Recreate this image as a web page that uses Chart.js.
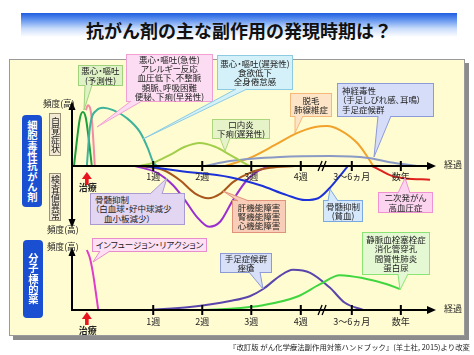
<!DOCTYPE html>
<html><head><meta charset="utf-8">
<script src="https://cdn.jsdelivr.net/npm/chart.js@4.4.0/dist/chart.umd.min.js"></script>
<style>
html,body{margin:0;padding:0;background:#fff;}
#wrap{position:relative;width:474px;height:355px;overflow:hidden;font-family:"Noto Sans CJK JP","Noto Sans",sans-serif;color:#222;}
#title{position:absolute;left:21px;top:13px;width:436px;height:30px;background:linear-gradient(#1d5de0 0%,#5f93ee 22%,#c9dcfb 52%,#ffffff 80%);font-size:18px;font-weight:bold;text-align:center;line-height:35px;color:#111;}
#panel{position:absolute;left:9px;top:59px;width:456px;height:277px;background:#fffcd2;border:1px solid #9a9a9a;box-sizing:border-box;box-shadow:4px 4px 0 #8c8c8c;}
canvas{position:absolute;left:0;top:0;}
.co{position:absolute;box-sizing:border-box;border:1px solid;font-size:8.5px;line-height:9.3px;text-align:center;white-space:nowrap;display:flex;flex-direction:column;justify-content:center;font-feature-settings:"palt";color:#222;}
.lbl{position:absolute;font-size:8.6px;line-height:10px;white-space:nowrap;font-feature-settings:"palt";color:#222;}
.vb{position:absolute;writing-mode:vertical-rl;text-orientation:upright;text-align:center;box-sizing:border-box;}
.big{background:#1a4fd2;color:#fff;font-weight:bold;font-size:10.3px;line-height:20px;border-radius:4px;}
.small{background:#f1e9d4;border:1px solid #9c9074;font-size:9px;line-height:10px;color:#222;}
#cite{position:absolute;right:4px;top:342px;font-size:7.4px;line-height:10px;white-space:nowrap;color:#222;}
svg{position:absolute;left:0;top:0;}
</style></head>
<body><div id="wrap">
<div id="title">抗がん剤の主な副作用の発現時期は？</div>
<div id="panel"></div>
<canvas id="c1" width="474" height="355"></canvas>
<canvas id="c2" width="474" height="355"></canvas>
<div class="vb big" style="left:22px;top:115px;width:20px;height:92px;">細胞毒性抗がん剤</div>
<div class="vb big" style="left:23px;top:240px;width:20px;height:78px;">分子標的薬</div>
<div class="vb small" style="left:49px;top:113px;width:12px;height:43px;">自覚症状</div>
<div class="vb small" style="left:49px;top:173px;width:12px;height:48px;">検査値異常</div>
<div class="lbl" style="left:43px;top:98px;">頻度(高)</div>
<div class="lbl" style="left:47px;top:224px;">頻度(高)</div>
<div class="lbl" style="left:47px;top:241px;">頻度(高)</div>
<div class="lbl" style="left:444px;top:160px;font-size:9px;">経過</div>
<div class="lbl" style="left:444px;top:304px;font-size:9px;">経過</div>
<div id="callouts"></div>
<svg id="ptr" width="474" height="355"></svg>
<div id="cite">『改訂版 がん化学療法副作用対策ハンドブック』(羊土社, 2015)より改変</div>
</div>
<script>
// ---- axis categories (position on the time axis, in axis units) ----
const tickLabels = ['1週','2週','3週','4週','3～6ヵ月','数年'];
const tickValues = [1.64, 2.63, 3.62, 4.62, 5.65, 6.64];
const treatmentX = 0.30;
const breakX = 5.07;
const axisEnd = 7.35;

// ---- cytotoxic drugs: symptoms (+) and lab abnormalities (-) ----
const nauseaAnticipatory = [[0.04,0],[0.10,0.42],[0.16,0.77],[0.22,0.87],[0.28,0.77],[0.34,0.42],[0.40,0]];
const nauseaAcute = [[0.28,0.90],[0.32,0.98],[0.37,0.92],[0.41,0.66],[0.44,0.29],[0.46,0]];
const nauseaDelayed = [[0.30,0],[0.36,0.61],[0.50,0.90],[0.63,0.94],[0.83,0.90],[1.11,0.77],[1.37,0.55],[1.53,0.29],[1.64,0.06],[1.72,0]];
const stomatitis = [[1.37,0],[1.64,0.05],[1.98,0.18],[2.28,0.31],[2.58,0.37],[2.89,0.31],[3.19,0.18],[3.45,0.06],[3.59,0]];
const alopecia = [[3.09,0],[3.59,0.13],[4.10,0.34],[4.54,0.53],[4.91,0.63],[5.15,0.645],[5.41,0.58],[5.76,0.37],[5.98,0.13],[6.08,0]];
const neuropathy = [[2.69,0],[3.19,0.08],[4.20,0.145],[5.21,0.16],[5.98,0.13],[6.42,0.06],[6.97,0]];
const secondaryCancer = [[6.06,0],[6.22,-0.065],[6.46,-0.16],[6.72,-0.20],[7.23,-0.22]];
const myeloWBC = [[1.27,0],[1.72,-0.11],[2.04,-0.31],[2.28,-0.55],[2.52,-0.82],[2.77,-0.98],[2.99,-0.90],[3.25,-0.55],[3.53,-0.23],[3.76,-0.08],[4.00,0]];
const organDamage = [[1.37,0],[1.84,-0.065],[2.18,-0.23],[2.48,-0.44],[2.75,-0.52],[2.99,-0.45],[3.25,-0.26],[3.59,-0.11],[4.00,-0.03],[4.50,0]];
const anemia = [[1.47,0],[2.18,-0.08],[3.19,-0.18],[3.80,-0.31],[4.34,-0.47],[4.71,-0.55],[4.97,-0.52],[5.21,-0.35],[5.41,-0.16],[5.57,0]];

// ---- molecular targeted drugs ----
const infusionReaction = [[0.30,1.0],[0.36,0.87],[0.42,0.63],[0.48,0.30],[0.53,0]];
const handFootAcne = [[1.58,0],[2.38,0.05],[3.19,0.15],[3.59,0.23],[3.86,0.35],[4.20,0.57],[4.46,0.67],[4.81,0.62],[5.21,0.37],[5.51,0.12],[5.88,0]];
const thromboEtc = [[2.58,0],[3.19,0.02],[3.86,0.08],[4.54,0.22],[5.01,0.43],[5.41,0.58],[5.88,0.53],[6.36,0.43],[6.62,0.35]];

const pts = a => a.map(p => ({x:p[0], y:p[1]}));
const ds = (arr, color) => ({data: pts(arr), borderColor: color, borderWidth: 2, pointRadius: 0, fill: false, cubicInterpolationMode: 'monotone', clip: false});

function tri(ctx, pts){ctx.beginPath();ctx.moveTo(pts[0][0],pts[0][1]);ctx.lineTo(pts[1][0],pts[1][1]);ctx.lineTo(pts[2][0],pts[2][1]);ctx.closePath();ctx.fill();}

function makeAxes(cfg){
  return {id:'axes', afterDatasetsDraw(chart){
    const ctx = chart.ctx, x = chart.scales.x, y = chart.scales.y;
    const y0 = y.getPixelForValue(0), x0 = x.getPixelForValue(0), xe = x.getPixelForValue(axisEnd);
    ctx.save();
    ctx.strokeStyle = '#000'; ctx.fillStyle = '#000'; ctx.lineWidth = 2;
    ctx.beginPath(); ctx.moveTo(x0, y0); ctx.lineTo(xe - 6, y0); ctx.stroke();
    tri(ctx, [[xe, y0], [xe - 9, y0 - 4], [xe - 9, y0 + 4]]);
    const yt = y.getPixelForValue(y.max) - cfg.topExtra;
    const yb = cfg.both ? y.getPixelForValue(y.min) : y0;
    ctx.beginPath(); ctx.moveTo(x0, cfg.both ? yb - 6 : y0 + 1); ctx.lineTo(x0, yt + 6); ctx.stroke();
    tri(ctx, [[x0, yt], [x0 - 3.5, yt + 9], [x0 + 3.5, yt + 9]]);
    if (cfg.both) tri(ctx, [[x0, yb], [x0 - 3.5, yb - 9], [x0 + 3.5, yb - 9]]);
    // ticks
    ctx.font = '9px "Noto Sans CJK JP"'; ctx.textAlign = 'center'; ctx.textBaseline = 'middle';
    tickValues.forEach((v, i) => {
      const px = x.getPixelForValue(v);
      ctx.beginPath(); ctx.moveTo(px, y0 - 5); ctx.lineTo(px, y0 + 5); ctx.stroke();
      ctx.fillStyle = '#222'; ctx.fillText(tickLabels[i], px, y0 + cfg.labelDy);
    });
    // break mark
    const bx = x.getPixelForValue(breakX);
    ctx.lineWidth = 1.3; ctx.strokeStyle = '#000';
    ctx.beginPath(); ctx.moveTo(bx - 5, y0 + 5); ctx.lineTo(bx - 1, y0 - 5); ctx.moveTo(bx - 1, y0 + 5); ctx.lineTo(bx + 3, y0 - 5); ctx.stroke();
    // treatment arrow
    const tx = x.getPixelForValue(treatmentX);
    ctx.fillStyle = '#e8141e';
    const at = y0 + cfg.arrowTip;
    tri(ctx, [[tx, at], [tx - 5, at + 7], [tx + 5, at + 7]]);
    ctx.fillRect(tx - 1.8, at + 6, 3.6, 7);
    ctx.fillStyle = '#222'; ctx.font = 'bold 9px "Noto Sans CJK JP"';
    ctx.fillText('治療', tx + 1, y0 + cfg.treatDy);
    ctx.restore();
  }};
}

const baseOpts = (yMin, yMax, padTop, padBottom) => ({
  responsive: false, animation: false,
  layout: {padding: {left: 72, right: 474 - 436, top: padTop, bottom: padBottom}},
  scales: {x: {type: 'linear', min: 0, max: axisEnd, display: false}, y: {min: yMin, max: yMax, display: false}},
  plugins: {legend: {display: false}, tooltip: {enabled: false}}
});

new Chart(document.getElementById('c1'), {
  type: 'line',
  data: {datasets: [
    ds(stomatitis, '#a2cf4a'),
    ds(neuropathy, '#8a9ac4'),
    ds(alopecia, '#f2a22a'),
    ds(nauseaDelayed, '#3db39a'),
    ds(nauseaAcute, '#f28ca0'),
    ds(nauseaAnticipatory, '#1f9e3a'),
    ds(secondaryCancer, '#e0201c'),
    ds(anemia, '#1c32d8'),
    ds(organDamage, '#a8561a'),
    ds(myeloWBC, '#9a2fd0')
  ]},
  options: baseOpts(-1, 1, 104, 355 - 228),
  plugins: [makeAxes({both: true, topExtra: 3, labelDy: 11, arrowTip: 6, treatDy: 22})]
});

new Chart(document.getElementById('c2'), {
  type: 'line',
  data: {datasets: [
    ds(thromboEtc, '#3fd63f'),
    ds(handFootAcne, '#5a46aa'),
    ds(infusionReaction, '#e03ccc')
  ]},
  options: baseOpts(0, 1.05, 247, 355 - 310),
  plugins: [makeAxes({both: false, topExtra: 0, labelDy: 12, arrowTip: 2, treatDy: 21})]
});

// ---- callout boxes (layout) ----
const callouts = [
 {x:78,y:65,w:45,h:21,bg:'#dff2c6',bd:'#9fd27a',t:'悪心・嘔吐<br>(予測性)',p:[[85,85],[84,110],[92,85]]},
 {x:126,y:54,w:87,h:48,bg:'#fcdcf2',bd:'#f2a0d2',t:'悪心・嘔吐(急性)<br>アレルギー反応<br>血圧低下、不整脈<br>頻脈、呼吸困難<br>便秘、下痢(早発性)',p:[[131,101],[97,127],[142,101]]},
 {x:217,y:55,w:76,h:35,bg:'#d4f0f8',bd:'#8ccbe0',t:'悪心・嘔吐(遅発性)<br>食欲低下<br>全身倦怠感',p:[[236,89],[143,139],[247,89]]},
 {x:212,y:119,w:58,h:20,bg:'#e6f3c8',bd:'#acd67c',t:'口内炎<br>下痢(遅発性)',p:[[220,138],[225,151],[230,138]]},
 {x:290,y:93,w:42,h:24,bg:'#fde4c6',bd:'#f4b878',t:'脱毛<br>肺線維症',p:[[295,116],[295,133],[303,116]]},
 {x:337,y:83,w:97,h:34,bg:'#d6ddf8',bd:'#8c9ad8',left:true,t:'神経毒性<br>（手足しびれ感、耳鳴）<br>手足症候群',p:[[378,116],[374,157],[391,116]]},
 {x:90,y:193,w:95,h:32,bg:'#e2d6f2',bd:'#aa9ad2',left:true,t:'骨髄抑制<br>（白血球・好中球減少<br><span style="padding-left:9px">血小板減少）</span>',p:[[150,194],[167,178],[162,194]]},
 {x:232,y:200,w:54,h:33,bg:'#f8ceb8',bd:'#e0927a',t:'肝機能障害<br>腎機能障害<br>心機能障害',p:[[238,201],[223,191],[249,201]]},
 {x:323,y:200,w:40,h:22,bg:'#d6e9fc',bd:'#7aa8e0',t:'骨髄抑制<br>(貧血)',p:[[328,201],[330,189],[338,201]]},
 {x:378,y:192,w:55,h:21,bg:'#fcd4f0',bd:'#f092d2',t:'二次発がん<br>高血圧症',p:[[398,193],[405,178],[410,193]]},
 {x:92,y:238,w:115,h:14,bg:'#fde0f4',bd:'#e88ccc',t:'インフュージョン・リアクション',p:[[100,251],[93,262],[110,251]]},
 {x:220,y:253,w:52,h:20,bg:'#d8e0f8',bd:'#8c9ad8',t:'手足症候群<br>痤瘡',p:[[249,272],[263,289],[260,272]]},
 {x:362,y:232,w:68,h:43,bg:'#e4f8d4',bd:'#8ae474',t:'静脈血栓塞栓症<br>消化管穿孔<br>間質性肺炎<br>蛋白尿',p:[[398,274],[400,290],[408,274]]}
];
const host = document.getElementById('callouts');
const svg = document.getElementById('ptr');
let svgHtml = '';
callouts.forEach(c => {
  const d = document.createElement('div');
  d.className = 'co';
  d.style.cssText = `left:${c.x}px;top:${c.y}px;width:${c.w}px;height:${c.h}px;background:${c.bg};border-color:${c.bd};` + (c.left ? 'text-align:left;padding-left:4px;' : '');
  d.innerHTML = c.t;
  host.appendChild(d);
  const p = c.p;
  svgHtml += `<path d="M${p[0][0]} ${p[0][1]} L${p[1][0]} ${p[1][1]} L${p[2][0]} ${p[2][1]}" fill="${c.bg}" stroke="${c.bd}" stroke-width="1"/>`;
});
svg.innerHTML = svgHtml;
</script>
</body></html>
